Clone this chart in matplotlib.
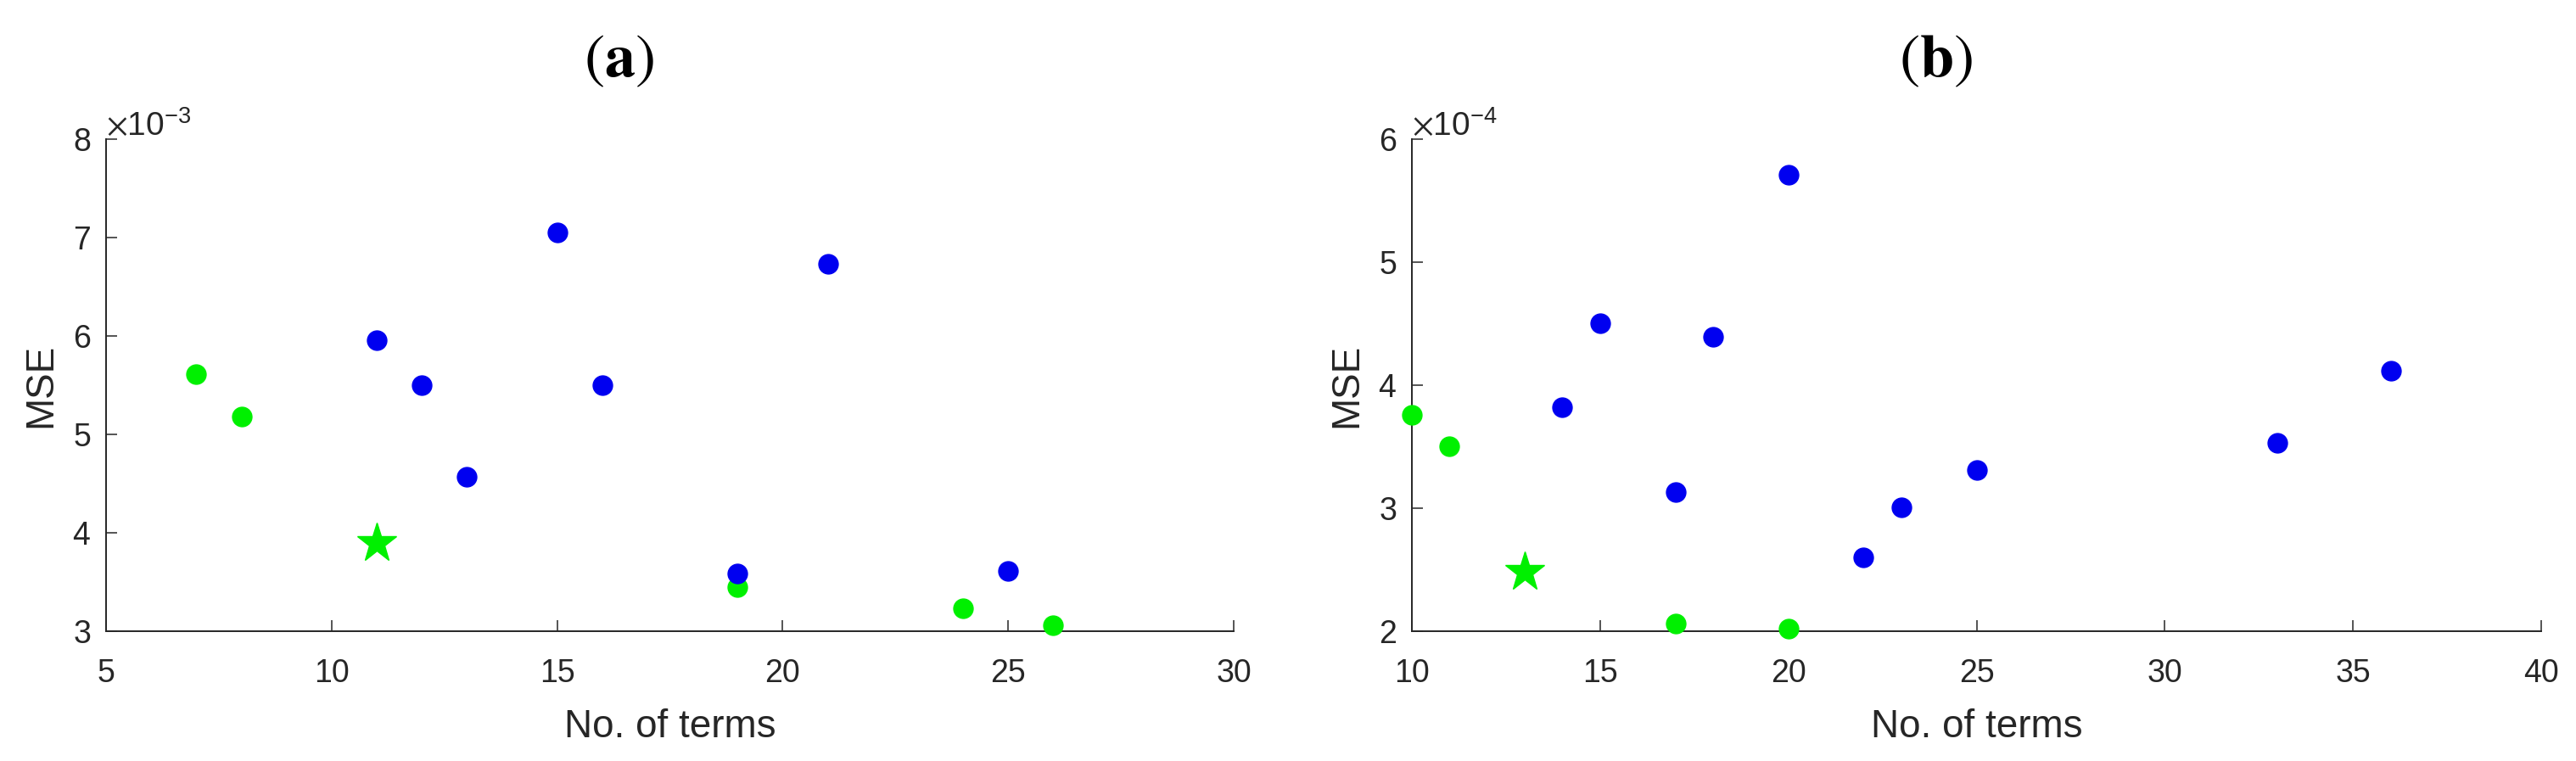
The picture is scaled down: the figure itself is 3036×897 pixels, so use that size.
import numpy as np
import matplotlib
matplotlib.use("Agg")
import matplotlib.pyplot as plt
from matplotlib.ticker import ScalarFormatter

plt.rcParams['font.family'] = ['Liberation Sans', 'DejaVu Sans']
plt.rcParams['mathtext.fontset'] = 'stix'

# panel (a)
terms_a_blue = [11, 12, 13, 15, 16, 19, 21, 25]
mse_a_blue = [5.96e-3, 5.50e-3, 4.57e-3, 7.05e-3, 5.50e-3, 3.59e-3, 6.73e-3, 3.61e-3]
terms_a_green = [7, 8, 19, 24, 26]
mse_a_green = [5.61e-3, 5.18e-3, 3.45e-3, 3.23e-3, 3.06e-3]
terms_a_best = [11]
mse_a_best = [3.90e-3]

# panel (b)
terms_b_blue = [14, 15, 17, 18, 20, 22, 23, 25, 33, 36]
mse_b_blue = [3.82e-4, 4.50e-4, 3.13e-4, 4.39e-4, 5.71e-4, 2.60e-4, 3.01e-4, 3.31e-4, 3.53e-4, 4.12e-4]
terms_b_green = [10, 11, 17, 20]
mse_b_green = [3.76e-4, 3.50e-4, 2.06e-4, 2.02e-4]
terms_b_best = [13]
mse_b_best = [2.48e-4]

blue = '#0000f0'
green = '#00f000'
grey = '#262626'

fig = plt.figure(figsize=(30.36, 8.97), dpi=100)


def panel(rect, xb, yb, xg, yg, xs, ys, xlim, ylim, xticks, yticks):
    ax = fig.add_axes(rect)
    ax.plot(xg, yg, 'o', color=green, ms=16.5, mec=green, clip_on=False, zorder=3)
    ax.plot(xb, yb, 'o', color=blue, ms=16.5, mec=blue, clip_on=False, zorder=4)
    ax.plot(xs, ys, '*', color=green, ms=35, mec=green, clip_on=False, zorder=5)
    ax.set_xlim(xlim)
    ax.set_ylim(ylim)
    ax.set_xticks(xticks)
    ax.set_yticks(yticks)
    fmt = ScalarFormatter(useMathText=True)
    fmt.set_powerlimits((0, 0))
    ax.yaxis.set_major_formatter(fmt)
    ax.yaxis.get_offset_text().set_fontsize(28)
    ax.yaxis.get_offset_text().set_color(grey)
    for s in ['top', 'right']:
        ax.spines[s].set_visible(False)
    for s in ['left', 'bottom']:
        ax.spines[s].set_linewidth(1.4)
        ax.spines[s].set_color(grey)
    ax.tick_params(axis='both', direction='in', length=9.5, width=1.1,
                   color=grey, labelcolor=grey, labelsize=27)
    ax.tick_params(axis='x', pad=23)
    ax.tick_params(axis='y', pad=13)
    ax.set_xlabel('No. of terms', fontsize=33, color=grey, va='baseline')
    ax.xaxis.set_label_coords(0.5, -0.215)
    ax.set_ylabel('MSE', fontsize=33, color=grey, va='center')
    ax.yaxis.set_label_coords(-0.058, 0.5)
    return ax


panel([0.0412, 0.1706, 0.4377, 0.6466],
      terms_a_blue, mse_a_blue, terms_a_green, mse_a_green, terms_a_best, mse_a_best,
      (5, 30), (3e-3, 8e-3), np.arange(5, 31, 5), np.arange(3e-3, 8.01e-3, 1e-3))
panel([0.5481, 0.1706, 0.4384, 0.6466],
      terms_b_blue, mse_b_blue, terms_b_green, mse_b_green, terms_b_best, mse_b_best,
      (10, 40), (2e-4, 6e-4), np.arange(10, 41, 5), np.arange(2e-4, 6.01e-4, 1e-4))

fig.text(0.2404, 0.92, r'$(\mathbf{a})$', fontsize=52, ha='center', va='center', color='black')
fig.text(0.7513, 0.92, r'$(\mathbf{b})$', fontsize=52, ha='center', va='center', color='black')

fig.savefig('out.png', dpi=100)
